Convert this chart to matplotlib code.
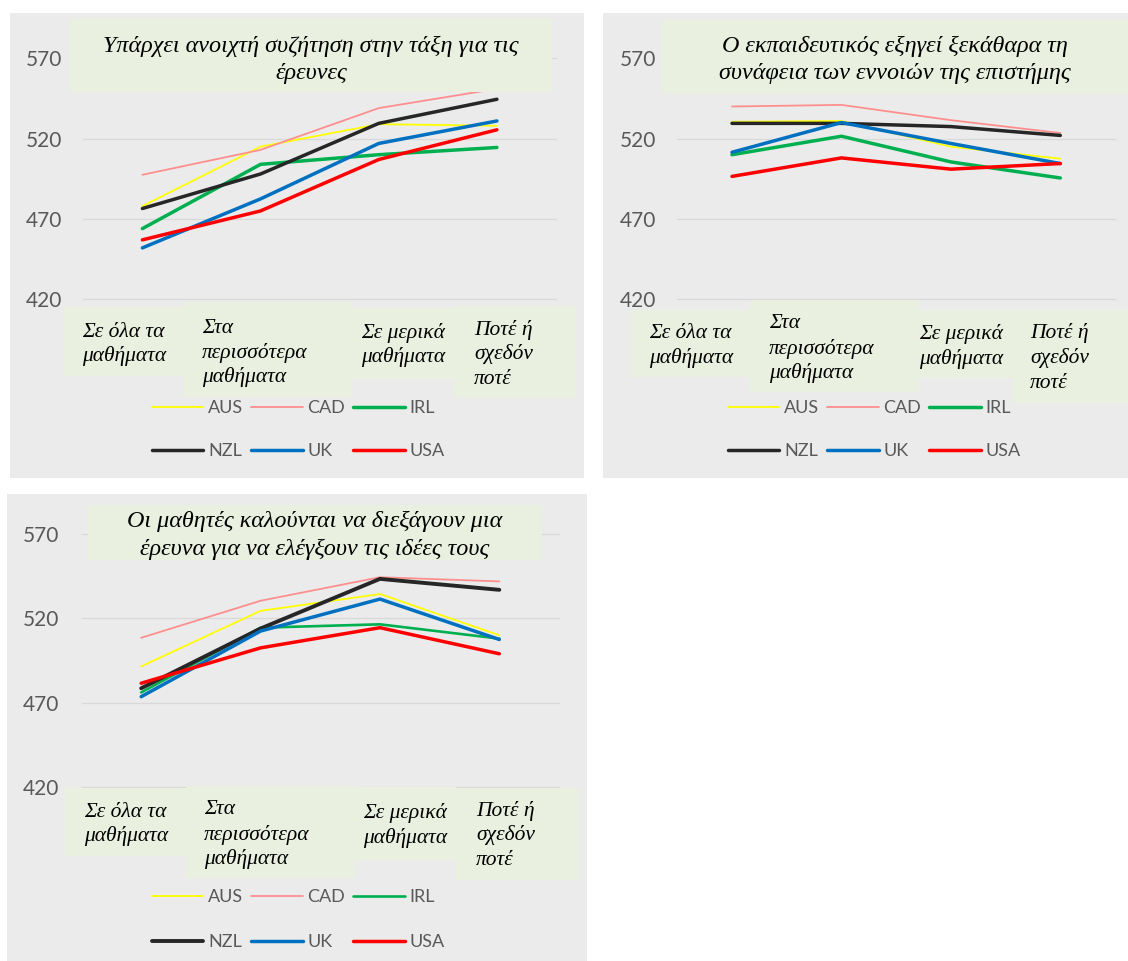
import matplotlib
matplotlib.use("Agg")
import matplotlib.pyplot as plt
from matplotlib.patches import Rectangle

# ---------------------------------------------------------------- data
countries = ["AUS", "CAD", "IRL", "NZL", "UK", "USA"]
categories = ["Σε όλα τα\nμαθήματα", "Στα\nπερισσότερα\nμαθήματα",
              "Σε μερικά\nμαθήματα", "Ποτέ ή\nσχεδόν\nποτέ"]
yticks = [420, 470, 520, 570]

title_discussion = "Υπάρχει ανοιχτή συζήτηση στην τάξη για τις\nέρευνες"
title_explain = "Ο εκπαιδευτικός εξηγεί ξεκάθαρα τη\nσυνάφεια των εννοιών της επιστήμης"
title_investigate = "Οι μαθητές καλούνται να διεξάγουν μια\nέρευνα για να ελέγξουν τις ιδέες τους"

# open discussion of investigations
discussion_aus = [478.0, 515.0, 529.0, 528.0]
discussion_cad = [497.5, 513.0, 539.0, 551.0]
discussion_irl = [464.0, 504.0, 510.0, 514.5]
discussion_nzl = [476.5, 498.0, 529.5, 544.5]
discussion_uk = [452.0, 482.5, 517.0, 531.0]
discussion_usa = [457.0, 475.0, 507.0, 525.5]

# teacher explains relevance of science concepts
explain_aus = [530.5, 531.0, 515.0, 507.5]
explain_cad = [540.0, 541.0, 531.5, 523.5]
explain_irl = [510.0, 521.5, 505.5, 495.5]
explain_nzl = [529.5, 529.5, 527.5, 522.0]
explain_uk = [511.5, 530.0, 517.0, 504.5]
explain_usa = [496.5, 508.0, 501.0, 504.5]

# students design investigations to test ideas
investigate_aus = [491.5, 524.5, 534.5, 510.0]
investigate_cad = [508.5, 530.5, 544.5, 542.0]
investigate_irl = [476.0, 514.5, 516.5, 508.0]
investigate_nzl = [478.5, 514.0, 543.5, 537.0]
investigate_uk = [473.5, 512.5, 531.5, 507.5]
investigate_usa = [481.5, 502.5, 514.5, 499.0]

# ---------------------------------------------------------------- style
W, H = 1128, 961
DPI = 100
PANEL_BG = "#ebebeb"
BOX_BG = "#e9f0df"
LABEL_GREY = "#595959"
GRID = "#d9d9d9"
SERIF = ["Liberation Serif", "DejaVu Serif"]
SANS = ["Lato", "DejaVu Sans"]
colors = {"AUS": "#ffff00", "CAD": "#ff8f8f", "IRL": "#00b050",
          "NZL": "#262626", "UK": "#0070c0", "USA": "#ff0000"}
THIN, THICK = 1.3, 2.5
TITLE_SIZE = 17.4
CAT_SIZE = 15.5

fig = plt.figure(figsize=(W / DPI, H / DPI), dpi=DPI)
fig.patch.set_facecolor("white")


def fx(x):
    return x / W


def fy(y):
    return 1 - y / H


def rect(x0, y0, x1, y1, color, z):
    fig.add_artist(Rectangle((fx(x0), fy(y1)), fx(x1) - fx(x0), fy(y0) - fy(y1),
                             transform=fig.transFigure, facecolor=color,
                             edgecolor="none", zorder=z))


def lines_text(lines, x, ys, size, ha):
    for line, y in zip(lines, ys):
        fig.text(fx(x), fy(y + 0.27 * size * DPI / 72), line, ha=ha, va="baseline",
                 fontsize=size, style="italic", family=SERIF, color="black",
                 zorder=4)


def panel(series, widths, title, geo):
    bg = geo["bg"]
    rect(*bg, PANEL_BG, -2)

    px0, py0, px1, py1 = geo["plot"]
    ax = fig.add_axes([fx(px0), fy(py1), fx(px1) - fx(px0), fy(py0) - fy(py1)])
    ax.set_facecolor("none")
    for s in ax.spines.values():
        s.set_visible(False)
    ax.set_xlim(-0.5, len(categories) - 0.5)
    ax.set_ylim(yticks[0], yticks[-1])
    ax.set_xticks([])
    ax.set_yticks(yticks)
    ax.tick_params(axis="y", length=0, pad=geo["pad"], labelcolor=LABEL_GREY,
                   labelsize=15)
    for lab in ax.get_yticklabels():
        lab.set_family(SANS)
    ax.grid(axis="y", color=GRID, linewidth=0.9)
    ax.set_axisbelow(True)
    for gl in ax.get_ygridlines():
        gl.set_clip_on(False)

    handles = {}
    for name in countries:
        h, = ax.plot(range(len(categories)), series[name], color=colors[name],
                     linewidth=widths[name], solid_capstyle="round",
                     solid_joinstyle="round", label=name, clip_on=False)
        handles[name] = h

    # title box
    tx0, ty0, tx1, ty1 = geo["title_box"]
    rect(tx0, ty0, tx1, ty1, BOX_BG, 2)
    lines_text(title.split("\n"), (tx0 + tx1) / 2, geo["title_y"], TITLE_SIZE, "center")

    # category boxes
    for cat, box, tx, tys in zip(categories, geo["cat_boxes"], geo["cat_x"], geo["cat_y"]):
        rect(*box, BOX_BG, 2)
        lines_text(cat.split("\n"), tx, tys, CAT_SIZE, "left")

    # legend laid out in rows of three (legend fills column by column)
    ncol = 3
    order = [countries[r * ncol + c] for c in range(ncol)
             for r in range(len(countries) // ncol)]
    lx, ly = geo["legend"]
    fig.legend([handles[n] for n in order], order, ncol=ncol, loc="upper left",
               bbox_to_anchor=(fx(lx), fy(ly)), frameon=False,
               prop={"family": SANS, "size": 13}, labelcolor=LABEL_GREY,
               handlelength=2.85, handletextpad=0.25, columnspacing=0.45,
               labelspacing=geo["legend_gap"], borderpad=0, borderaxespad=0)


geo1 = dict(bg=(10, 13, 584, 478), plot=(83.3, 58.3, 556, 299.3), pad=15,
            title_box=(70, 18, 552, 92), title_y=[45, 72],
            cat_boxes=[(64, 307, 184, 376), (184, 302, 352, 397),
                       (352, 308, 454, 379), (454, 306, 576, 398)],
            cat_x=[82, 202, 361, 474],
            cat_y=[[331, 355], [327, 352, 376], [332, 356], [329, 353, 378]],
            legend=(152, 400), legend_gap=1.5)

geo2 = dict(bg=(603, 13, 1128, 478), plot=(677.3, 58.3, 1115, 299.3), pad=15,
            title_box=(662, 20, 1128, 94), title_y=[45, 72],
            cat_boxes=[(631, 310, 750, 377), (750, 300, 919, 392),
                       (919, 310, 1012, 378), (1012, 310, 1128, 403)],
            cat_x=[649, 769, 919, 1030],
            cat_y=[[332, 357], [322, 348, 372], [333, 358], [332, 357, 382]],
            legend=(728, 400), legend_gap=1.5)

geo3 = dict(bg=(7, 494, 587, 961), plot=(81.5, 534.3, 559, 786.7), pad=16,
            title_box=(88, 505, 542, 560), title_y=[520, 548],
            cat_boxes=[(65, 788, 186, 856), (186, 786, 355, 878),
                       (355, 787, 456, 860), (456, 788, 579, 880)],
            cat_x=[84, 204, 363, 476],
            cat_y=[[811, 835], [808, 834, 858], [812, 837], [810, 834, 859]],
            legend=(152, 889), legend_gap=1.6)

widths12 = {"AUS": THIN, "CAD": THIN, "IRL": THICK, "NZL": THICK, "UK": THICK, "USA": THICK}
widths3 = {"AUS": THIN, "CAD": THIN, "IRL": 1.9, "NZL": 2.8, "UK": THICK, "USA": THICK}

panel({"AUS": discussion_aus, "CAD": discussion_cad, "IRL": discussion_irl,
       "NZL": discussion_nzl, "UK": discussion_uk, "USA": discussion_usa},
      widths12, title_discussion, geo1)
panel({"AUS": explain_aus, "CAD": explain_cad, "IRL": explain_irl,
       "NZL": explain_nzl, "UK": explain_uk, "USA": explain_usa},
      widths12, title_explain, geo2)
panel({"AUS": investigate_aus, "CAD": investigate_cad, "IRL": investigate_irl,
       "NZL": investigate_nzl, "UK": investigate_uk, "USA": investigate_usa},
      widths3, title_investigate, geo3)

fig.savefig("out.png", dpi=DPI)
